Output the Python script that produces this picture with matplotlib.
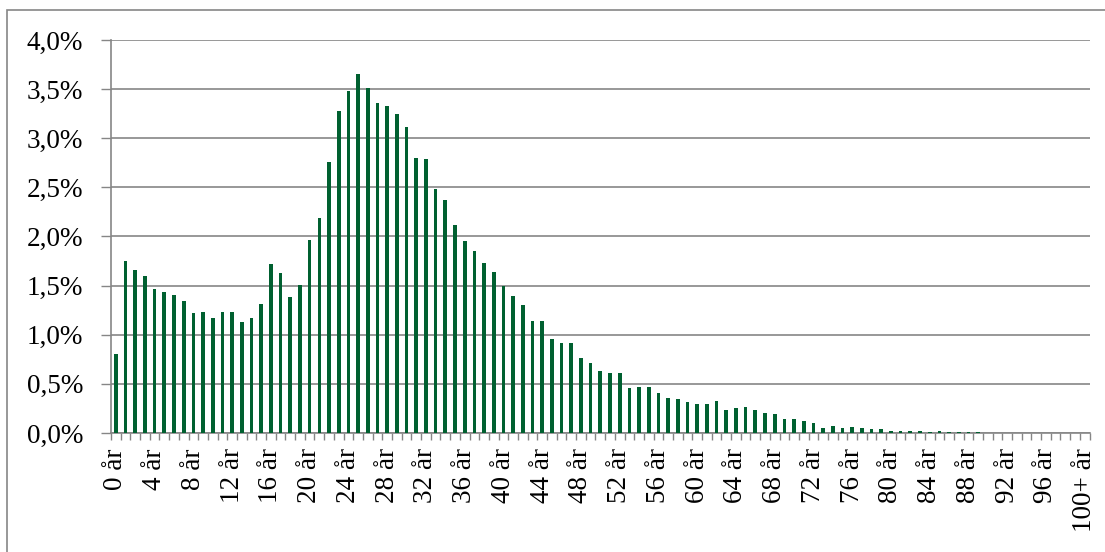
import matplotlib.pyplot as plt
from matplotlib.patches import Rectangle
import numpy as np

# andel per ålder (procent)
ages = [f"{a} år" for a in range(100)] + ["100+ år"]
shares = [
    0.80, 1.75, 1.66, 1.60, 1.47, 1.43, 1.40, 1.34, 1.22, 1.23,
    1.17, 1.23, 1.23, 1.13, 1.17, 1.31, 1.72, 1.63, 1.38, 1.51,
    1.96, 2.19, 2.76, 3.28, 3.48, 3.65, 3.51, 3.36, 3.33, 3.25,
    3.11, 2.80, 2.79, 2.48, 2.37, 2.12, 1.95, 1.85, 1.73, 1.64,
    1.50, 1.39, 1.30, 1.14, 1.14, 0.96, 0.92, 0.92, 0.76, 0.71,
    0.63, 0.61, 0.61, 0.46, 0.47, 0.47, 0.41, 0.36, 0.35, 0.32,
    0.30, 0.29, 0.33, 0.23, 0.25, 0.265, 0.23, 0.20, 0.19, 0.14,
    0.14, 0.12, 0.10, 0.055, 0.072, 0.055, 0.062, 0.055, 0.042, 0.038,
    0.025, 0.025, 0.025, 0.024, 0.010, 0.017, 0.009, 0.008, 0.007, 0.006,
    0.004, 0.003, 0.002, 0.002, 0.001, 0.001, 0.001, 0.001, 0.001, 0.001,
    0.001,
]
yticks = [0, 0.5, 1.0, 1.5, 2.0, 2.5, 3.0, 3.5, 4.0]

plt.rcParams['font.family'] = ['Liberation Serif', 'DejaVu Serif']
grey = '#868686'

fig = plt.figure(figsize=(11.05, 5.52), dpi=100)
ax = fig.add_axes([0.1005, 0.2156, 0.8855, 0.712])

x = np.arange(len(shares))
ax.bar(x, shares, width=0.38, color='#006030', zorder=3)

ax.set_xlim(-0.5, len(shares) - 0.5)
ax.set_ylim(0, 4.0)
ax.set_yticks(yticks)
ax.set_yticklabels([f"{v:.1f}%".replace('.', ',') for v in yticks], fontsize=19.5)
ax.yaxis.grid(True, color=grey, linewidth=1.2, zorder=0)

lab_pos = list(range(0, 100, 4)) + [100]
ax.set_xticks(lab_pos)
ax.set_xticklabels([ages[i] for i in lab_pos], rotation=90, fontsize=19.5)
ax.set_xticks(np.arange(-0.5, len(shares)), minor=True)
ax.tick_params(axis='x', which='major', length=0, pad=11)
ax.tick_params(axis='x', which='minor', length=5, color=grey, width=1)
ax.tick_params(axis='y', length=7, color=grey, width=1, pad=13)

for s in ['top', 'right']:
    ax.spines[s].set_visible(False)
for s in ['left', 'bottom']:
    ax.spines[s].set_color(grey)
    ax.spines[s].set_linewidth(1.2)

# ram runt diagrammet (höger- och underkant utanför bilden)
fig.patches.append(Rectangle((7 / 1105, -10 / 552), 1110 / 1105, 552 / 552,
                             transform=fig.transFigure, fill=False,
                             edgecolor=grey, linewidth=1.2))

fig.savefig('out.png', dpi=100)
